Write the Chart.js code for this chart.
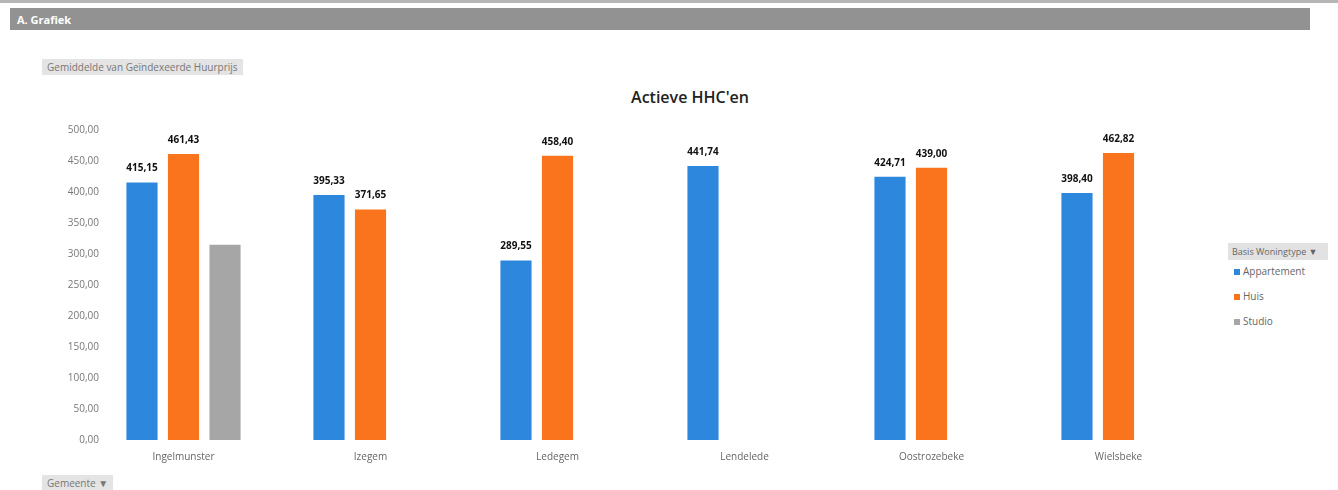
<!DOCTYPE html>
<html>
<head>
<meta charset="utf-8">
<script src="https://cdn.jsdelivr.net/npm/chart.js@4/dist/chart.umd.min.js"></script>
<style>
  html, body { margin: 0; padding: 0; background: #fff; font-family: "Open Sans", "Noto Sans", sans-serif; }
  #wrap { position: relative; width: 1338px; height: 490px; overflow: hidden; }
  #c { position: absolute; left: 0; top: 0; }
  .topline { position: absolute; left: 0; top: 0; width: 1338px; height: 3px; background: #b5b5b5; }
  .band { position: absolute; left: 10px; top: 8px; width: 1300px; height: 22px; background: #929292; }
  .band span { position: absolute; left: 7px; top: 4px; color: #fff; font-weight: bold; font-size: 11px; }
  .btn { position: absolute; background: #e4e4e4; color: #777; font-size: 10px; padding: 1px 5px; }
  #titel { position: absolute; left: 590px; width: 200px; top: 86px; text-align: center; font-size: 16px; font-weight: 600; color: #222; }
  #legend { position: absolute; left: 1228px; top: 243px; font-size: 10px; color: #666; }
  #legend .ttl { background: #e2e2e2; color: #666; font-size: 9px; padding: 2px 4px; margin-bottom: 4px; width: 92px; }
  #legend .item { height: 25px; line-height: 14px; padding-left: 6px; }
  #legend .sw { display: inline-block; width: 6px; height: 6px; margin-right: 3px; }
</style>
</head>
<body>
<div id="wrap">
  <div class="topline"></div>
  <div class="band"><span>A. Grafiek</span></div>
  <div class="btn" style="left:42px;top:59px;">Gemiddelde van Geïndexeerde Huurprijs</div>
  <div class="btn" style="left:42px;top:475px;">Gemeente &#9660;</div>
  <div id="titel">Actieve HHC'en</div>
  <div id="legend"><div class="ttl">Basis Woningtype &#9660;</div></div>
  <canvas id="c" width="1338" height="490"></canvas>
</div>
<script>
const gemeenten = ['Ingelmunster', 'Izegem', 'Ledegem', 'Lendelede', 'Oostrozebeke', 'Wielsbeke']
const appartement = [415.15, 395.33, 289.55, 441.74, 424.71, 398.40]
const huis = [461.43, 371.65, 458.40, null, 439.00, 462.82]
const studio = [315, null, null, null, null, null]
const yTicks = [0, 50, 100, 150, 200, 250, 300, 350, 400, 450, 500]

const reeksen = ['Appartement', 'Huis', 'Studio']
const kleuren = ['#2d87dc', '#f9741c', '#a6a6a6']

function nl(v) {
    return v.toFixed(2).replace('.', ',')
}

// Labels boven de balken (Studio zonder label)
const labelPlugin = {
    id: 'barLabels',
    afterDatasetsDraw(chart) {
        const ctx = chart.ctx
        ctx.save()
        ctx.font = 'bold 10px "Open Sans", sans-serif'
        ctx.fillStyle = '#111'
        ctx.textAlign = 'center'
        ctx.textBaseline = 'bottom'
        chart.data.datasets.forEach((ds, i) => {
            if (i === 2) return
            chart.getDatasetMeta(i).data.forEach((bar, j) => {
                const v = ds.data[j]
                if (v == null) return
                ctx.fillText(nl(v), bar.x, bar.y - 9)
            })
        })
        ctx.restore()
    }
}

const legend = document.getElementById('legend')
reeksen.forEach((r, i) => {
    const d = document.createElement('div')
    d.className = 'item'
    d.innerHTML = `<span class="sw" style="background:${kleuren[i]}"></span>${r}`
    legend.appendChild(d)
})

new Chart(document.getElementById('c').getContext('2d'), {
    type: 'bar',
    data: {
        labels: gemeenten,
        datasets: [
            { label: reeksen[0], data: appartement, backgroundColor: kleuren[0] },
            { label: reeksen[1], data: huis, backgroundColor: kleuren[1] },
            { label: reeksen[2], data: studio, backgroundColor: kleuren[2] }
        ]
    },
    options: {
        responsive: false,
        animation: false,
        layout: { padding: { left: 30, right: 126, top: 130, bottom: 24 } },
        datasets: { bar: { categoryPercentage: 0.666, barPercentage: 0.75, skipNull: false } },
        plugins: {
            legend: { display: false },
            tooltip: { enabled: false }
        },
        scales: {
            x: {
                grid: { display: false },
                border: { display: false },
                ticks: { color: '#666', font: { family: '"Open Sans", sans-serif', size: 10 }, padding: 3 }
            },
            y: {
                min: 0,
                max: 500,
                // smalle as, labels lopen iets over het plotgebied
                afterFit: s => { s.width = 60; s._computeLabelArea = () => undefined },
                afterBuildTicks: s => { s.ticks = yTicks.map(v => ({ value: v })) },
                grid: { display: false },
                border: { display: false },
                ticks: {
                    color: '#777',
                    font: { family: '"Open Sans", sans-serif', size: 10 },
                    padding: -17,
                    callback: v => nl(v)
                }
            }
        }
    },
    plugins: [labelPlugin]
})
</script>
</body>
</html>
